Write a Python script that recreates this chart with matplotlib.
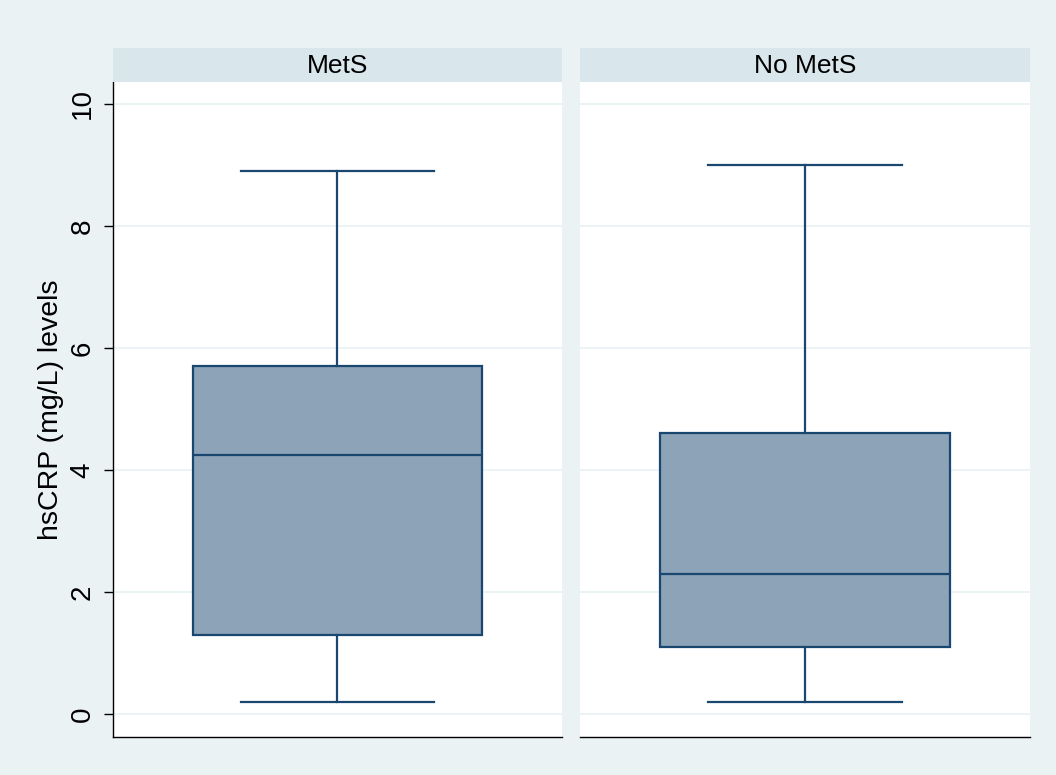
import matplotlib
matplotlib.use("Agg")
import matplotlib.pyplot as plt

plt.rcParams['font.family'] = ['Liberation Sans', 'DejaVu Sans']

# hsCRP summary per group (mg/L)
groups = ["MetS", "No MetS"]
whisker_low = [0.2, 0.2]
q1 = [1.3, 1.1]
medians = [4.25, 2.3]
q3 = [5.7, 4.6]
whisker_high = [8.9, 9.0]
y_ticks = [0, 2, 4, 6, 8, 10]

bg = "#EAF2F3"
strip = "#D9E6EB"
edge = "#1A476F"
fill = "#8CA3B8"

fig = plt.figure(figsize=(10.56, 7.75), dpi=100, facecolor=bg)

panel_left = [0.1070, 0.5492]
panel_width = [0.4252, 0.4261]
bottom, height = 0.0490, 0.8452
strip_h = 0.0439

for i, name in enumerate(groups):
    ax = fig.add_axes([panel_left[i], bottom, panel_width[i], height])
    ax.set_facecolor("white")
    stats = [dict(whislo=whisker_low[i], q1=q1[i], med=medians[i],
                  q3=q3[i], whishi=whisker_high[i], fliers=[])]
    ax.bxp(stats, positions=[0.5], widths=0.644, capwidths=0.43,
           patch_artist=True, showfliers=False,
           boxprops=dict(facecolor=fill, edgecolor=edge, linewidth=1.6),
           medianprops=dict(color=edge, linewidth=1.6),
           whiskerprops=dict(color=edge, linewidth=1.6),
           capprops=dict(color=edge, linewidth=1.6))
    ax.set_xlim(0, 1)
    ax.set_ylim(-0.377, 10.36)
    ax.set_yticks(y_ticks)
    ax.yaxis.grid(True, color=bg, linewidth=1.3)
    ax.set_axisbelow(True)
    ax.set_xticks([])
    for s in ["top", "right"]:
        ax.spines[s].set_visible(False)
    ax.spines["bottom"].set_color("black")
    ax.spines["bottom"].set_linewidth(1.0)
    if i == 0:
        ax.spines["left"].set_color("black")
        ax.spines["left"].set_linewidth(1.0)
        ax.tick_params(axis="y", length=6.5, width=1.0, labelsize=20, pad=6)
        for lab in ax.get_yticklabels():
            lab.set_rotation(90)
            lab.set_va("center")
        ax.set_ylabel("hsCRP (mg/L) levels", fontsize=20.5, labelpad=4)
    else:
        ax.spines["left"].set_visible(False)
        ax.tick_params(axis="y", left=False, labelleft=False)

    # header strip with group name
    sax = fig.add_axes([panel_left[i], bottom + height, panel_width[i], strip_h])
    sax.set_facecolor(strip)
    sax.set_xticks([])
    sax.set_yticks([])
    for s in sax.spines.values():
        s.set_visible(False)
    sax.text(0.5, 0.48, name, ha="center", va="center", fontsize=19,
             transform=sax.transAxes)

fig.savefig("out.png", dpi=100, facecolor=bg)
